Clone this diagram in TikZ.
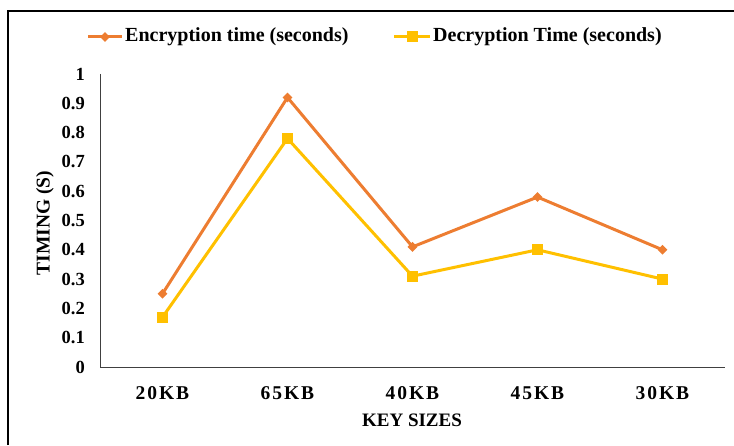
\documentclass[tikz,border=0pt]{standalone}
\usepackage{fontspec}
\setmainfont{Liberation Serif}
\usetikzlibrary{shapes.geometric}
\usetikzlibrary{backgrounds}

\definecolor{enccol}{HTML}{ED7D31}
\definecolor{deccol}{HTML}{FFC000}

\tikzset{
  lbl/.style={font=\fontsize{18.5}{20}\selectfont\bfseries, inner sep=0pt},
  leglbl/.style={font=\fontsize{20}{22}\selectfont\bfseries, inner sep=0pt},
  catlbl/.style={font=\fontsize{19.5}{21}\selectfont\bfseries\addfontfeature{LetterSpace=10}, inner sep=0pt},
  encmark/.style={diamond, fill=enccol, minimum size=10pt, inner sep=0pt},
  decmark/.style={rectangle, fill=deccol, minimum size=11pt, inner sep=0pt},
  encline/.style={enccol, line width=3pt},
  decline/.style={deccol, line width=3pt},
}

\begin{document}
\begin{tikzpicture}[x=1pt,y=1pt]
        \useasboundingbox (0,0) rectangle (734,445);
        % frame
        \draw[line width=1.8pt] (8,0) -- (8,434) -- (734,434);
        % axes
        \coordinate (O) at (100,78);
        \coordinate (T) at (100,371);
        \coordinate (R) at (725,78);
        \draw[line width=0.8pt, black!75] (T) -- (O) -- (R);
        \foreach \v/\t in {0/0,1/0.1,2/0.2,3/0.3,4/0.4,5/0.5,6/0.6,7/0.7,8/0.8,9/0.9,10/1}
            \node[lbl, anchor=east] (y\v) at (85,78+29.3*\v) {\t};
        \foreach \t [count=\i] in {20KB,65KB,40KB,45KB,30KB}
            \node[catlbl, anchor=base] (c\i) at (37.5+125*\i,46) {\t};
        \node[lbl, font=\fontsize{19}{21}\selectfont\bfseries] (xt) at (412,25) {KEY SIZES};
        \node[lbl, font=\fontsize{19.5}{21}\selectfont\bfseries, rotate=90] (yt) at (45,222) {TIMING (S)};
        % data
        \foreach \e/\d [count=\i] in {0.25/0.17,0.92/0.78,0.41/0.31,0.58/0.40,0.40/0.30} {
            \node[encmark] (e\i) at (37.5+125*\i,78+293*\e) {};
            \node[decmark] (d\i) at (37.5+125*\i,78+293*\d) {};
        }
        \begin{scope}[on background layer]
            \draw[encline] (e1.center) -- (e2.center) -- (e3.center) -- (e4.center) -- (e5.center);
            \draw[decline] (d1.center) -- (d2.center) -- (d3.center) -- (d4.center) -- (d5.center);
        \end{scope}
        % legend
        \coordinate (la) at (88,408);
        \coordinate (lb) at (122,408);
        \draw[encline] (la) -- (lb);
        \node[encmark] (lem) at (105,408) {};
        \node[leglbl, anchor=west] (let) at (125,408) {Encryption time (seconds)};
        \coordinate (lc) at (394,408);
        \coordinate (ld) at (430,408);
        \draw[decline] (lc) -- (ld);
        \node[decmark] (ldm) at (412,408) {};
        \node[leglbl, anchor=west] (ldt) at (433,408) {Decryption Time (seconds)};
\end{tikzpicture}
\end{document}
